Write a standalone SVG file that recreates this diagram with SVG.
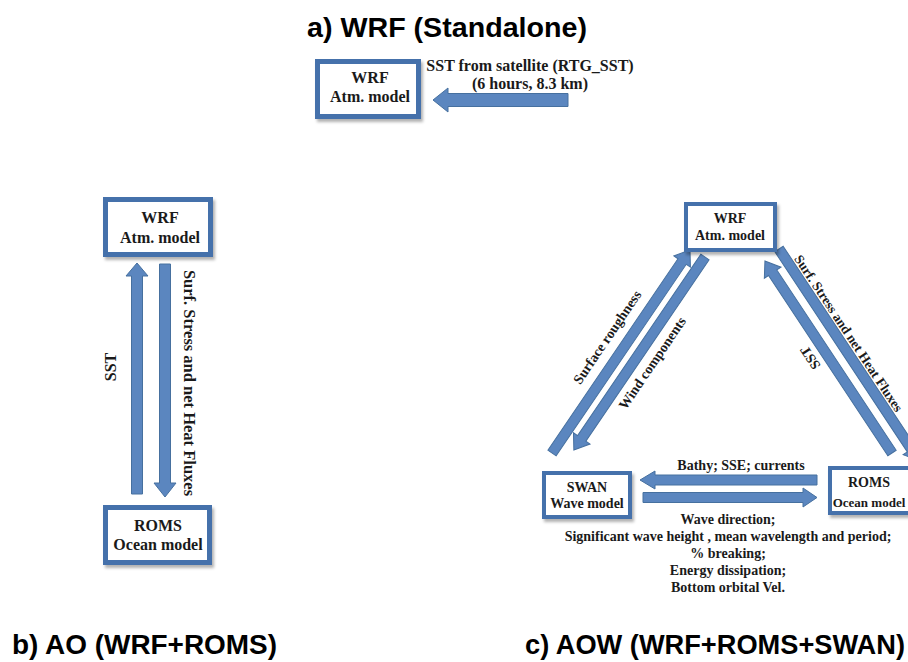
<svg xmlns="http://www.w3.org/2000/svg" width="908" height="662" viewBox="0 0 908 662">
<defs>
<filter id="sh" x="-20%" y="-20%" width="140%" height="140%">
<feDropShadow dx="2" dy="3" stdDeviation="1.8" flood-color="#000" flood-opacity="0.3"/>
</filter>
<style>
.box{fill:#fff;stroke:#4471ab;filter:url(#sh)}
.bA{stroke-width:5}
.bC{stroke-width:4}
.arr{fill:#5b86bf;stroke:#46709f;stroke-width:1}
.t{font-family:"Liberation Serif","Times New Roman",serif;font-weight:bold;fill:#1a1a1a;text-anchor:middle}
.t16{font-size:16px}
.t14{font-size:14px}
.h{font-family:"Liberation Sans",Arial,sans-serif;font-weight:bold;fill:#000}
</style>
</defs>
<rect width="908" height="662" fill="#fff"/>

<!-- Titles -->
<text class="h" x="307" y="37" font-size="28" textLength="280" lengthAdjust="spacingAndGlyphs">a)  WRF (Standalone)</text>
<text class="h" x="12" y="654" font-size="27" textLength="265" lengthAdjust="spacingAndGlyphs">b) AO (WRF+ROMS)</text>
<text class="h" x="525" y="654" font-size="27" textLength="380" lengthAdjust="spacingAndGlyphs">c) AOW (WRF+ROMS+SWAN)</text>

<!-- Connectors -->
<g id="connectors">
<!-- panel a -->
<polygon class="arr" points="568,93.5 448,93.5 448,88 433,100 448,112 448,106.5 568,106.5"/>
<!-- panel b -->
<polygon class="arr" points="131.5,494 131.5,276 126,276 137,263 148,276 142.5,276 142.5,494"/>
<polygon class="arr" points="159.5,264 170.5,264 170.5,483 176,483 165,497 154,483 159.5,483"/>
<!-- panel c -->
<polygon class="arr" points="817,475 655,475 655,471 640,480 655,489 655,485 817,485"/>
<polygon class="arr" points="643,492.5 803,492.5 803,488 817,497.5 803,507 803,502.5 643,502.5"/>
<path class="arr" transform="translate(552,453) rotate(-55.8)" d="M0,-5 H231.5 V-10 L245.5,0 L231.5,10 V5 H0 Z"/>
<path class="arr" transform="translate(705,257) rotate(124.2)" d="M0,-5 H219.3 V-10 L233.3,0 L219.3,10 V5 H0 Z"/>
<path class="arr" transform="translate(892,453) rotate(-123.5)" d="M0,-5 H216.2 V-10 L230.2,0 L216.2,10 V5 H0 Z"/>
<path class="arr" transform="translate(779,249) rotate(56.5)" d="M0,-5 H240 V-10 L254,0 L240,10 V5 H0 Z"/>
</g>

<!-- Connector labels -->
<g id="labels">
<text class="t t16" x="530" y="71">SST from satellite (RTG_SST)</text>
<text class="t t16" x="530" y="89">(6 hours, 8.3 km)</text>
<text class="t t16" transform="translate(110,367) rotate(-90)" y="5.5">SST</text>
<text class="t" font-size="16.5" transform="translate(189,383) rotate(90)" y="5.5">Surf. Stress and net Heat Fluxes</text>
<text class="t t14" transform="translate(607,337) rotate(-55.8)" y="5">Surface roughness</text>
<text class="t t14" transform="translate(652,363) rotate(-55.8)" y="5">Wind components</text>
<text class="t t14" transform="translate(810,358) rotate(-123.5)" y="5">SST</text>
<text class="t" font-size="13.5" transform="translate(849,333) rotate(56.5)" y="5">Surf. Stress and net Heat Fluxes</text>
<text class="t t14" x="741" y="470">Bathy; SSE; currents</text>
<text class="t t14" x="728" y="524">Wave direction;</text>
<text class="t t14" x="728" y="541">Significant wave height , mean wavelength and period;</text>
<text class="t t14" x="728" y="558">% breaking;</text>
<text class="t t14" x="728" y="575">Energy dissipation;</text>
<text class="t t14" x="728" y="592">Bottom orbital Vel.</text>
</g>

<!-- Nodes -->
<g id="wrf-a">
<rect class="box bA" x="317.5" y="61.5" width="101" height="55"/>
<text class="t t16" x="370" y="83">WRF</text>
<text class="t t16" x="370" y="102">Atm. model</text>
</g>
<g id="wrf-b">
<rect class="box bA" x="105.5" y="199.5" width="105" height="55"/>
<text class="t t16" x="160" y="223">WRF</text>
<text class="t t16" x="160" y="243">Atm. model</text>
</g>
<g id="roms-b">
<rect class="box bA" x="105.5" y="507.5" width="104" height="55"/>
<text class="t t16" x="158" y="531">ROMS</text>
<text class="t t16" x="158" y="550">Ocean model</text>
</g>
<g id="wrf-c">
<rect class="box bC" x="686" y="204" width="89" height="46"/>
<text class="t t14" x="730" y="223">WRF</text>
<text class="t t14" x="730" y="240">Atm. model</text>
</g>
<g id="swan-c">
<rect class="box bC" x="544" y="473" width="86" height="44"/>
<text class="t t14" x="587" y="492">SWAN</text>
<text class="t t14" x="587" y="508">Wave model</text>
</g>
<g id="roms-c">
<rect class="box bC" x="830" y="468" width="100" height="45"/>
<text class="t t14" x="869" y="487">ROMS</text>
<text class="t" font-size="13" x="869" y="507">Ocean model</text>
</g>
</svg>
